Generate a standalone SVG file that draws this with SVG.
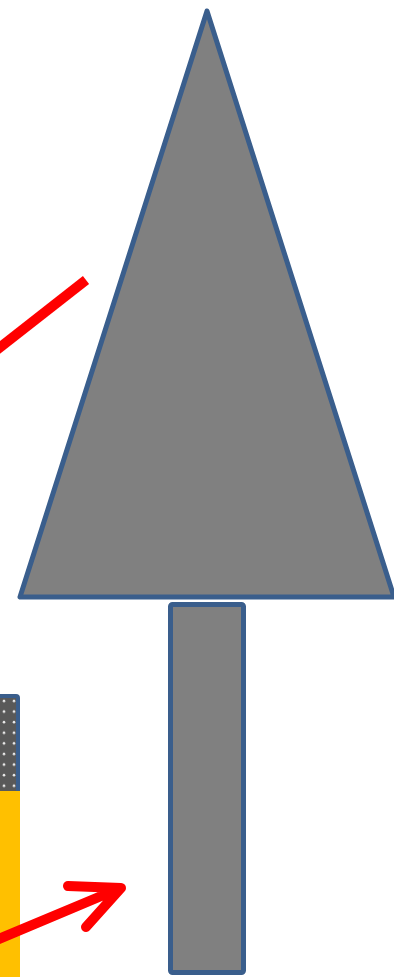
<svg xmlns="http://www.w3.org/2000/svg" width="394" height="977" viewBox="0 0 394 977">
<style>
.shape{fill:#808080;stroke:#3a5e8c;stroke-width:5;stroke-linejoin:round}
.red{fill:none;stroke:#ff0000;stroke-width:10}
</style>
<defs>
<pattern id="dots" patternUnits="userSpaceOnUse" x="0" y="696" width="10" height="10.6">
<rect width="10" height="10.6" fill="#595959"/>
<circle cx="4" cy="5" r="1.3" fill="#e8e8e8"/>
</pattern>
</defs>
<rect width="394" height="977" fill="#ffffff"/>
<g id="strip">
<rect x="-10" y="696" width="28" height="110" rx="2" fill="url(#dots)" stroke="#3a5e8c" stroke-width="4"/>
<rect x="0" y="791" width="20" height="190" fill="#ffc000"/>
</g>
<g id="triangle">
<polygon class="shape" points="207,11 20,597 394,597"/>
</g>
<g id="trunk">
<rect class="shape" x="170.5" y="604.5" width="73" height="368" rx="2"/>
</g>
<g id="connectors">
<line class="red" x1="86" y1="280" x2="-6" y2="352"/>
<path class="red" d="M -6 941 L 118 889 M 68 886 L 121 888 L 86 927" stroke-linecap="round" stroke-linejoin="round"/>
</g>
</svg>
